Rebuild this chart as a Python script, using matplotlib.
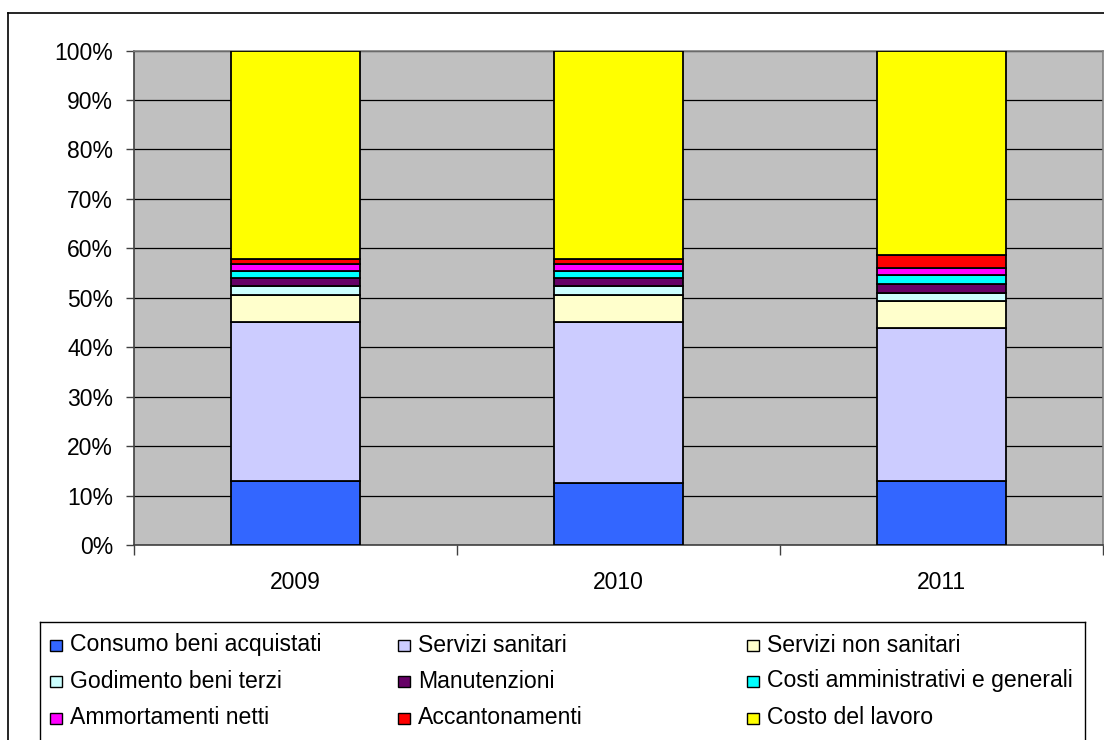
import matplotlib
matplotlib.use("Agg")
import matplotlib.pyplot as plt
from matplotlib.lines import Line2D
from matplotlib.patches import Rectangle
import numpy as np

plt.rcParams['font.family'] = ['Liberation Sans', 'DejaVu Sans']

years = ['2009', '2010', '2011']
series_names = [
    'Consumo beni acquistati', 'Servizi sanitari', 'Servizi non sanitari',
    'Godimento beni terzi', 'Manutenzioni', 'Costi amministrativi e generali',
    'Ammortamenti netti', 'Accantonamenti', 'Costo del lavoro',
]
consumo_beni = [12.9, 12.5, 12.9]
servizi_sanitari = [32.1, 32.5, 31.0]
servizi_non_sanitari = [5.5, 5.5, 5.5]
godimento_beni_terzi = [1.9, 1.9, 1.55]
manutenzioni = [1.5, 1.5, 1.85]
costi_amministrativi = [1.5, 1.5, 1.8]
ammortamenti_netti = [1.45, 1.45, 1.45]
accantonamenti = [1.05, 1.05, 2.55]
costo_lavoro = [42.1, 42.1, 41.4]

series_values = [consumo_beni, servizi_sanitari, servizi_non_sanitari,
                 godimento_beni_terzi, manutenzioni, costi_amministrativi,
                 ammortamenti_netti, accantonamenti, costo_lavoro]
colors = ['#3366FF', '#CCCCFF', '#FFFFCC', '#CCFFFF', '#660066',
          '#00FFFF', '#FF00FF', '#FF0000', '#FFFF00']

W, H = 1104, 740
fig = plt.figure(figsize=(W / 100, H / 100), dpi=100)
ax = fig.add_axes([134 / W, 1 - 545 / H, (1103 - 134) / W, (545 - 50.5) / H])
ax.set_facecolor('#C0C0C0')

x = np.arange(len(years))
bottom = np.zeros(len(years))
for name, vals, col in zip(series_names, series_values, colors):
    v = np.array(vals)
    ax.bar(x, v, 0.40, bottom=bottom, color=col, edgecolor='black',
           linewidth=1.3, zorder=3, label=name)
    bottom += v

ax.set_xlim(-0.5, len(years) - 0.5)
ax.set_ylim(0, 100)
ax.set_yticks(np.arange(0, 101, 10))
ax.set_yticklabels([f'{t}%' for t in range(0, 101, 10)])
ax.yaxis.grid(True, color='black', linewidth=0.9, zorder=1)
ax.set_axisbelow(True)

ax.set_xticks(x)
ax.set_xticklabels(years)
ax.set_xticks(np.arange(-0.5, len(years), 1.0), minor=True)
ax.tick_params(axis='x', which='major', length=0, pad=19, labelsize=16.5)
ax.tick_params(axis='x', which='minor', length=7, width=1, color='#404040')
ax.tick_params(axis='y', length=6, width=1, color='#404040', pad=9, labelsize=16.5)

for s in ['top', 'right']:
    ax.spines[s].set_color('#808080')
    ax.spines[s].set_linewidth(1.2)
for s in ['left', 'bottom']:
    ax.spines[s].set_color('#404040')
    ax.spines[s].set_linewidth(1.2)

# outer chart frame
fig.add_artist(Line2D([8 / W, 8 / W], [0, 1 - 13 / H], color='black', linewidth=1.2))
fig.add_artist(Line2D([8 / W, 1], [1 - 13 / H, 1 - 13 / H], color='black', linewidth=1.2))

# legend frame
lx0, lx1, ly0 = 40 / W, 1085 / W, 1 - 622 / H
fig.add_artist(Line2D([lx0, lx1], [ly0, ly0], color='black', linewidth=1.0))
fig.add_artist(Line2D([lx0, lx0], [0, ly0], color='black', linewidth=1.0))
fig.add_artist(Line2D([lx1, lx1], [0, ly0], color='black', linewidth=1.0))

col_x = [50, 398, 747]
row_y = [645, 681, 718]
bw, bh = 12, 11
for i, (name, col) in enumerate(zip(series_names, colors)):
    r, c = divmod(i, 3)
    cx, cy = col_x[c], row_y[r]
    fig.add_artist(Rectangle((cx / W, 1 - (cy + bh / 2) / H), bw / W, bh / H,
                             facecolor=col, edgecolor='black', linewidth=1.0,
                             transform=fig.transFigure))
    fig.text((cx + 20) / W, 1 - cy / H, name, fontsize=16.6,
             ha='left', va='center')

fig.savefig('out.png', dpi=100)
